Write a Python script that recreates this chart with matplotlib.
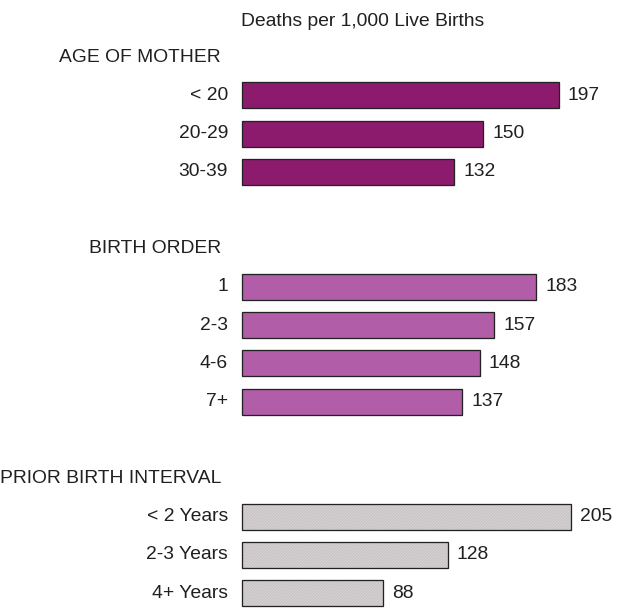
import matplotlib.pyplot as plt

# deaths per 1,000 live births, by group
age_labels = ['< 20', '20-29', '30-39']
age_values = [197, 150, 132]

order_labels = ['1', '2-3', '4-6', '7+']
order_values = [183, 157, 148, 137]

interval_labels = ['< 2 Years', '2-3 Years', '4+ Years']
interval_values = [205, 128, 88]

groups = [
    ('AGE OF MOTHER', age_labels, age_values, '#8c1b6d', None),
    ('BIRTH ORDER', order_labels, order_values, '#b15da7', None),
    ('PRIOR BIRTH INTERVAL', interval_labels, interval_values, '#c9c5c6', '////////'),
]

plt.rcParams['font.family'] = ['Liberation Sans', 'DejaVu Sans']
plt.rcParams['hatch.linewidth'] = 0.6
FS = 19.2
TXT = '#202020'

W, H, DPI = 628, 609, 72
fig = plt.figure(figsize=(W / DPI, H / DPI), dpi=DPI)
ax = fig.add_axes([0, 0, 1, 1])

# layout in pixels: bars start at x0, px_per_unit along x, one slot per row
x0 = 242
px_per_unit = 1.607
slot_px = 38.3
top_px = 57
ax.set_xlim(-x0 / px_per_unit, (W - x0) / px_per_unit)
ax.set_ylim((H - top_px) / slot_px, -top_px / slot_px)
ax.axis('off')

slot = 0
for header, labels, values, color, hatch in groups:
    ax.annotate(header, (0, slot), xytext=(-21, 0), textcoords='offset points',
                ha='right', va='center', fontsize=FS, color=TXT)
    ys = [slot + 1 + i for i in range(len(values))]
    if hatch:
        # screened fill first, then the outline on top
        ax.barh(ys, values, height=0.68, color=color, edgecolor='#dedada',
                hatch=hatch, linewidth=0)
        ax.barh(ys, values, height=0.68, fill=False,
                edgecolor='#222222', linewidth=1.3)
    else:
        ax.barh(ys, values, height=0.68, color=color,
                edgecolor='#222222', linewidth=1.3)
    for y, lab, v in zip(ys, labels, values):
        ax.annotate(lab, (0, y), xytext=(-14, 0), textcoords='offset points',
                    ha='right', va='center', fontsize=FS, color=TXT)
        ax.annotate(str(v), (v, y), xytext=(9, 0), textcoords='offset points',
                    ha='left', va='center', fontsize=FS, color=TXT)
    slot += len(values) + 2

fig.text(363 / W, 1 - 22 / H, 'Deaths per 1,000 Live Births', ha='center',
         va='center', fontsize=FS, color=TXT)

fig.savefig('out.png', dpi=DPI)
